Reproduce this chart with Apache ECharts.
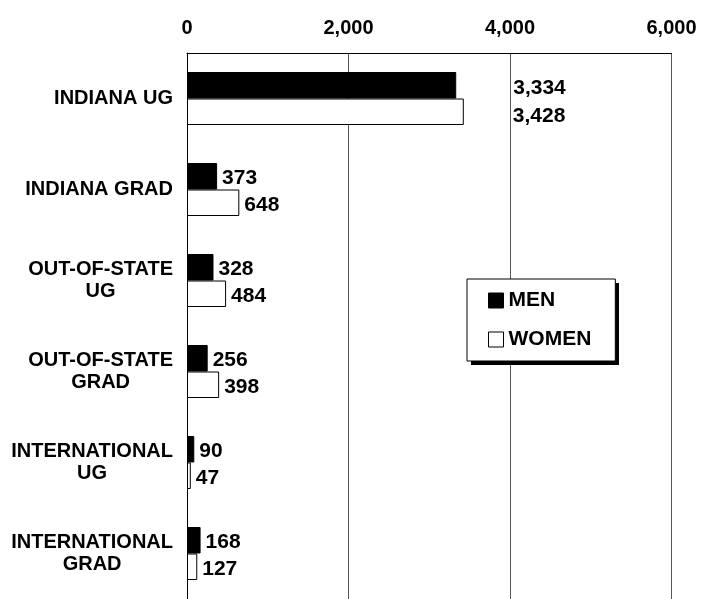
<!DOCTYPE html>
<html>
<head>
<meta charset="utf-8">
<script src="https://cdn.jsdelivr.net/npm/echarts@6/dist/echarts.min.js"></script>
<style>
  html, body { margin: 0; padding: 0; background: #fff; }
  #chart { width: 713px; height: 599px; }
</style>
</head>
<body>
<div id="chart"></div>
<script>
// enrollment by residency and level
const categories = ['INDIANA UG', 'INDIANA GRAD', 'OUT-OF-STATE\nUG', 'OUT-OF-STATE\nGRAD', 'INTERNATIONAL\nUG', 'INTERNATIONAL\nGRAD']
const men = [3334, 373, 328, 256, 90, 168]
const women = [3428, 648, 484, 398, 47, 127]
const xTicks = [0, 2000, 4000, 6000]

const FONT = "'Liberation Sans', Arial, sans-serif"

function fmt (v) {
  return String(v).replace(/\B(?=(\d{3})+(?!\d))/g, ',')
}

// the first row has its labels pushed past the 4,000 line
function barData (arr, firstOffset) {
  return arr.map((v, i) => {
    if (i === 0) return { value: v, label: { offset: firstOffset } }
    return { value: v, label: { offset: [0, 2] } }
  })
}

const labelStyle = {
  show: true,
  position: 'right',
  distance: 5,
  color: '#000',
  fontFamily: FONT,
  fontWeight: 'bold',
  fontSize: 21,
  formatter: (p) => fmt(p.value)
}

const chart = echarts.init(document.getElementById('chart'))
chart.setOption({
  backgroundColor: '#fff',
  animation: false,
  grid: { left: 187, top: 53, width: 484.5, height: 551 },
  // drop shadow behind the legend box
  graphic: [{
    type: 'rect',
    left: 471,
    top: 283,
    z: 1,
    shape: { width: 148, height: 82 },
    style: { fill: '#000' }
  }],
  legend: {
    orient: 'vertical',
    left: 467,
    top: 279,
    z: 5,
    padding: [11, 24, 11, 21],
    itemWidth: 15,
    itemHeight: 15,
    itemGap: 18,
    itemTextGap: 5,
    icon: 'rect',
    backgroundColor: '#fff',
    borderColor: '#000',
    borderWidth: 1,
    borderRadius: 0,
    textStyle: { color: '#000', fontFamily: FONT, fontWeight: 'bold', fontSize: 21 },
    data: [
      { name: 'MEN', itemStyle: { color: '#000', borderColor: '#000', borderWidth: 1 } },
      { name: 'WOMEN', itemStyle: { color: '#fff', borderColor: '#000', borderWidth: 1 } }
    ]
  },
  xAxis: {
    type: 'value',
    position: 'top',
    min: xTicks[0],
    max: xTicks[xTicks.length - 1],
    interval: xTicks[1] - xTicks[0],
    axisLine: { show: true, lineStyle: { color: '#000', width: 1 } },
    axisTick: { show: false },
    axisLabel: {
      margin: 15,
      color: '#000',
      fontFamily: FONT,
      fontWeight: 'bold',
      fontSize: 20,
      formatter: (v) => fmt(v)
    },
    splitLine: { show: true, lineStyle: { color: '#555', width: 1 } }
  },
  yAxis: {
    type: 'category',
    inverse: true,
    data: categories,
    axisLine: { show: true, lineStyle: { color: '#000', width: 1 } },
    axisTick: { show: false },
    axisLabel: {
      margin: 14,
      align: 'right',
      color: '#000',
      fontFamily: FONT,
      fontWeight: 'bold',
      fontSize: 20,
      formatter: (v) => v.split('\n').map(s => '{c|' + s + '}').join('\n'),
      rich: {
        c: { align: 'center', color: '#000', fontFamily: FONT, fontWeight: 'bold', fontSize: 20, lineHeight: 22 }
      }
    }
  },
  series: [
    {
      name: 'MEN',
      type: 'bar',
      barWidth: 26.5,
      barGap: '0%',
      itemStyle: { color: '#000', borderColor: '#000', borderWidth: 1 },
      label: labelStyle,
      data: barData(men, [52, 3])
    },
    {
      name: 'WOMEN',
      type: 'bar',
      barWidth: 26.5,
      barGap: '0%',
      itemStyle: { color: '#fff', borderColor: '#000', borderWidth: 1 },
      label: labelStyle,
      data: barData(women, [44, 4])
    }
  ]
})
</script>
</body>
</html>
